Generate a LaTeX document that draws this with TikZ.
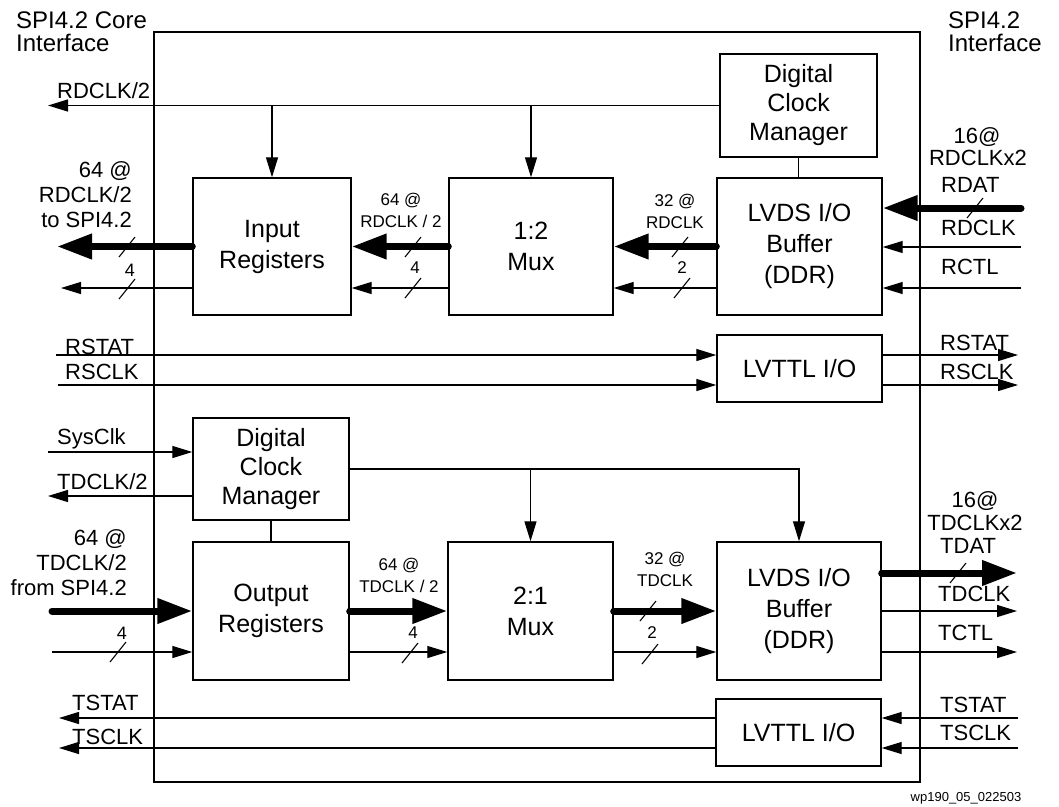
\documentclass[tikz,border=0pt]{standalone}
\usepackage{fontspec}
\setmainfont{Liberation Sans}
\usetikzlibrary{arrows.meta,calc}
\tikzset{
  blk/.style={draw, line width=1.4pt, inner sep=0pt, align=center, font=\fontsize{25}{31}\selectfont},
  dcmblk/.style={blk, font=\fontsize{25}{29}\selectfont},
  sigarrow/.style={line width=1.3pt, -{Triangle[length=20pt,width=12pt]}},
  busarrow/.style={line width=7pt, line cap=round, -{Triangle[length=35pt,width=24pt]}},
  plainline/.style={line width=1.3pt},
  slashmark/.style={line width=1.1pt},
  lbl/.style={inner sep=0pt, font=\fontsize{22}{25}\selectfont},
  bigl/.style={inner sep=0pt, align=left, font=\fontsize{24}{23}\selectfont},
  smlbl/.style={inner sep=0pt, align=center, font=\fontsize{17}{22}\selectfont},
  numl/.style={inner sep=0pt, font=\fontsize{18}{20}\selectfont},
}
\newcommand{\busslash}[1]{\draw[slashmark] ($(#1)+(-8,10)$) -- ($(#1)+(8,-10)$);}
\begin{document}
\begin{tikzpicture}[x=1pt,y=-1pt]
\useasboundingbox (0,0) rectangle (1059,806);
% frame
\node[draw, line width=1.4pt, minimum width=766pt, minimum height=750pt, inner sep=0pt] (frame) at (537,407) {};
% blocks
\node[dcmblk, minimum width=157pt, minimum height=103pt] (dcmT) at (798.5,105.5) {Digital\\Clock\\Manager};
\node[blk, minimum width=158pt, minimum height=137pt] (inT) at (272,246.5) {Input\\Registers};
\node[blk, minimum width=164pt, minimum height=137pt] (muxT) at (531,246.5) {1:2\\Mux};
\node[blk, minimum width=165pt, minimum height=137pt] (lvdsT) at (799.5,246.5) {LVDS I/O\\Buffer\\(DDR)};
\node[blk, minimum width=165pt, minimum height=67pt] (ttlT) at (799.5,368.5) {LVTTL I/O};
\node[dcmblk, minimum width=156pt, minimum height=102pt] (dcmB) at (271,469) {Digital\\Clock\\Manager};
\node[blk, minimum width=156pt, minimum height=138pt] (outB) at (271,611) {Output\\Registers};
\node[blk, minimum width=165pt, minimum height=138pt] (muxB) at (530.5,611) {2:1\\Mux};
\node[blk, minimum width=164pt, minimum height=138pt] (lvdsB) at (799,611) {LVDS I/O\\Buffer\\(DDR)};
\node[blk, minimum width=165pt, minimum height=67pt] (ttlB) at (798.5,732.5) {LVTTL I/O};

% helper coordinates
\coordinate (rdclkL) at (48,105.5);
\coordinate (outL) at (57,246.5);
\coordinate (ctlT) at (61,288);
\coordinate (rdat) at (1021,208);
\coordinate (rdclk) at (1021,247);
\coordinate (rctl) at (1021,288);
\coordinate (rstatL) at (56,355);
\coordinate (rsclkL) at (58,385);
\coordinate (rEnd) at (1018,0);
\coordinate (sysclk) at (48,452);
\coordinate (tdclkL) at (48,496);
\coordinate (tdatL) at (52,611);
\coordinate (tctlL) at (52,652);
\coordinate (tdat) at (1017,573);
\coordinate (tdclk) at (1017,611);
\coordinate (tctl) at (1017,652);
\coordinate (tstatR) at (1018,718);
\coordinate (tsclkR) at (1018,748);
\coordinate (tL) at (59,0);

% top connectors
\draw[sigarrow] (dcmT.west) -- (rdclkL);
\draw[sigarrow] (inT.north |- dcmT.west) -- (inT.north);
\draw[sigarrow] (muxT.north |- dcmT.west) -- (muxT.north);
\draw[plainline] (dcmT.south) -- (dcmT.south |- lvdsT.north);
\draw[busarrow] (rdat) -- (rdat -| lvdsT.east);
\draw[sigarrow] (rdclk) -- (rdclk -| lvdsT.east);
\draw[sigarrow] (rctl) -- (rctl -| lvdsT.east);
\draw[busarrow] (lvdsT.west) -- (muxT.east);
\draw[sigarrow] (rctl -| lvdsT.west) -- (rctl -| muxT.east);
\draw[busarrow] (muxT.west) -- (inT.east);
\draw[sigarrow] (rctl -| muxT.west) -- (rctl -| inT.east);
\draw[busarrow] (inT.west) -- (outL);
\draw[sigarrow] (ctlT -| inT.west) -- (ctlT);
\draw[sigarrow] (rstatL) -- (rstatL -| ttlT.west);
\draw[sigarrow] (rsclkL) -- (rsclkL -| ttlT.west);
\draw[sigarrow] (rstatL -| ttlT.east) -- (rstatL -| rEnd);
\draw[sigarrow] (rsclkL -| ttlT.east) -- (rsclkL -| rEnd);

% bottom connectors
\draw[sigarrow] (sysclk) -- (sysclk -| dcmB.west);
\draw[sigarrow] (tdclkL -| dcmB.west) -- (tdclkL);
\draw[plainline] (dcmB.south) -- (outB.north);
\draw[sigarrow] (dcmB.east) -| (lvdsB.north);
\draw[sigarrow] (dcmB.east -| muxB.north) -- (muxB.north);
\draw[busarrow] (tdatL) -- (outB.west);
\draw[sigarrow] (tctlL) -- (tctlL -| outB.west);
\draw[busarrow] (outB.east) -- (muxB.west);
\draw[sigarrow] (tctlL -| outB.east) -- (tctlL -| muxB.west);
\draw[busarrow] (muxB.east) -- (lvdsB.west);
\draw[sigarrow] (tctlL -| muxB.east) -- (tctlL -| lvdsB.west);
\draw[busarrow] (tdat -| lvdsB.east) -- (tdat);
\draw[sigarrow] (tdclk -| lvdsB.east) -- (tdclk);
\draw[sigarrow] (tctl -| lvdsB.east) -- (tctl);
\draw[sigarrow] (tstatR) -- (tstatR -| ttlB.east);
\draw[sigarrow] (tsclkR) -- (tsclkR -| ttlB.east);
\draw[sigarrow] (tstatR -| ttlB.west) -- (tstatR -| tL);
\draw[sigarrow] (tsclkR -| ttlB.west) -- (tsclkR -| tL);

% bus slashes
\busslash{127,247}
\busslash{127,289}
\busslash{413,247}
\busslash{413,288}
\busslash{680,247}
\busslash{682,288}
\busslash{975,208}
\busslash{118,652}
\busslash{410,653}
\busslash{648,611}
\busslash{650,654}
\busslash{958,573}

% labels
\node[bigl, anchor=west] (lhdr) at (16,31.5) {SPI4.2 Core\\Interface};
\node[bigl, anchor=west] (rhdr) at (948,31.5) {SPI4.2\\Interface};
\node[lbl, anchor=west] (lrdclk) at (57,91) {RDCLK/2};
\node[lbl, anchor=east, align=right] (lout) at (132,195) {64 @\\RDCLK/2\\to SPI4.2};
\node[numl] (l4a) at (130,270) {4};
\node[smlbl] (m1) at (401,210) {64 @\\RDCLK / 2};
\node[numl, font=\fontsize{17}{20}\selectfont] (m1n) at (415,268) {4};
\node[smlbl] (m2) at (675,211) {32 @\\RDCLK};
\node[numl, font=\fontsize{17}{20}\selectfont] (m2n) at (682,268) {2};
\node[lbl] (r16) at (977,137) {16@};
\node[lbl] (rx2) at (978,158) {RDCLKx2};
\node[lbl, anchor=west] (rdatl) at (941,185) {RDAT};
\node[lbl, anchor=west] (rdclkl) at (941,228) {RDCLK};
\node[lbl, anchor=west] (rctll) at (941,267) {RCTL};
\node[lbl, anchor=west] (rstl) at (65,347) {RSTAT};
\node[lbl, anchor=west] (rscl) at (65,372) {RSCLK};
\node[lbl, anchor=west] (rstr) at (940,343) {RSTAT};
\node[lbl, anchor=west] (rscr) at (940,372) {RSCLK};
\node[lbl, anchor=west] (sysl) at (57,439) {SysClk};
\node[lbl, anchor=west] (tdl) at (57,482) {TDCLK/2};
\node[lbl, anchor=east, align=right] (tin) at (127,563) {64 @\\TDCLK/2\\from SPI4.2};
\node[numl] (l4b) at (122,633) {4};
\node[smlbl] (m3) at (399,575) {64 @\\TDCLK / 2};
\node[numl, font=\fontsize{17}{20}\selectfont] (m3n) at (413,633) {4};
\node[smlbl] (m4) at (665,569) {32 @\\TDCLK};
\node[numl, font=\fontsize{17}{20}\selectfont] (m4n) at (652,633) {2};
\node[lbl] (t16) at (975,501) {16@};
\node[lbl] (tx2) at (975,523) {TDCLKx2};
\node[lbl, anchor=west] (tdatl) at (940,546) {TDAT};
\node[lbl, anchor=west] (tdclkl) at (938,594) {TDCLK};
\node[lbl, anchor=west] (tctll) at (938,633) {TCTL};
\node[lbl, anchor=west] (tstl) at (72,703) {TSTAT};
\node[lbl, anchor=west] (tscl) at (72,737) {TSCLK};
\node[lbl, anchor=west] (tstr) at (940,705) {TSTAT};
\node[lbl, anchor=west] (tscr) at (940,733) {TSCLK};
\node[inner sep=0pt, font=\fontsize{13}{15}\selectfont] (fig) at (966,798) {wp190\_05\_022503};
\end{tikzpicture}
\end{document}
